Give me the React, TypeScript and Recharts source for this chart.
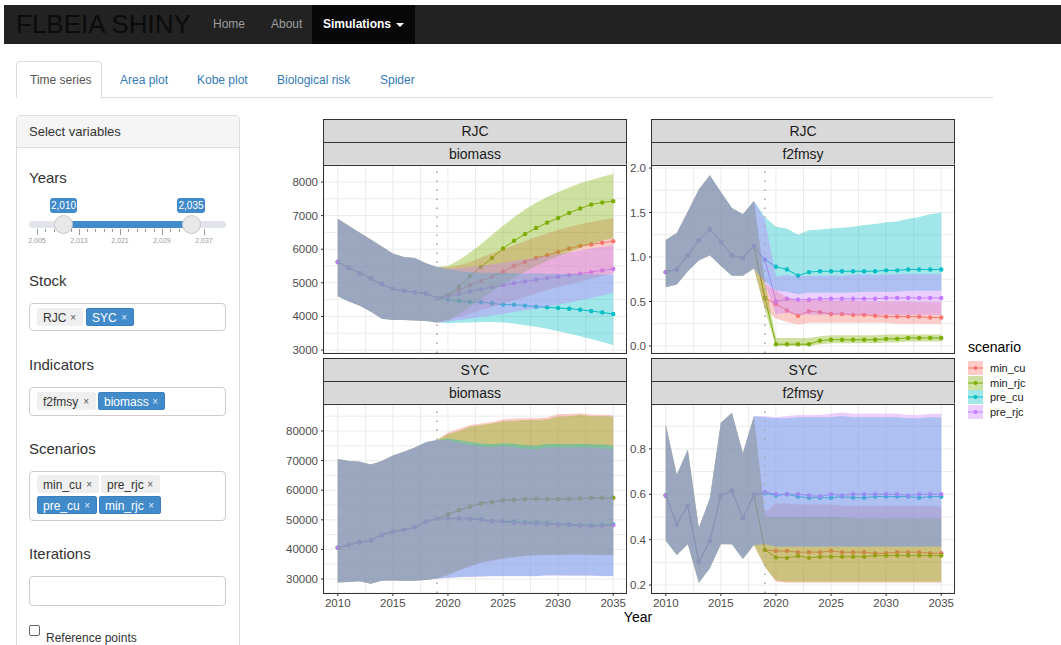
import React from 'react';
import { ComposedChart, Area, Line, XAxis, YAxis, CartesianGrid, ReferenceLine } from 'recharts';

// ---------- categories ----------
const years = [2010, 2011, 2012, 2013, 2014, 2015, 2016, 2017, 2018, 2019, 2020, 2021, 2022,
  2023, 2024, 2025, 2026, 2027, 2028, 2029, 2030, 2031, 2032, 2033, 2034, 2035];
const scenarios = ['min_cu', 'min_rjc', 'pre_cu', 'pre_rjc'];
const scenarioColors = ['#F8766D', '#7CAE00', '#00BFC4', '#C77CFF'];
const projectionYear = 2019;
const xMajorTicks = [2010, 2015, 2020, 2025, 2030, 2035];
const xMinorTicks = [2012.5, 2017.5, 2022.5, 2027.5, 2032.5];

// ---------- RJC biomass (hist 2010-2019, projection 2020-2035) ----------
const rjcBioHistMed = [5620, 5450, 5280, 5130, 4960, 4820, 4760, 4720, 4680, 4550];
const rjcBioHistLo = [4600, 4440, 4320, 4140, 3930, 3890, 3890, 3880, 3860, 3820];
const rjcBioHistHi = [6910, 6700, 6490, 6290, 6080, 5870, 5770, 5740, 5580, 5470];
const rjcBioMinCuMed = [4630, 4780, 4930, 5060, 5180, 5330, 5500, 5620, 5740, 5820, 5920, 6020, 6100, 6140, 6190, 6240];
const rjcBioMinCuLo = [3880, 3980, 4080, 4180, 4280, 4380, 4480, 4580, 4680, 4780, 4880, 4960, 5040, 5120, 5200, 5280];
const rjcBioMinCuHi = [5460, 5520, 5620, 5750, 5880, 6000, 6120, 6240, 6360, 6470, 6570, 6660, 6740, 6810, 6870, 6930];
const rjcBioMinRjcMed = [4630, 4880, 5200, 5470, 5740, 6020, 6250, 6450, 6630, 6790, 6930, 7080, 7210, 7330, 7390, 7430];
const rjcBioMinRjcLo = [3900, 4080, 4300, 4520, 4740, 4950, 5150, 5330, 5500, 5650, 5790, 5920, 6040, 6150, 6250, 6330];
const rjcBioMinRjcHi = [5500, 5680, 5900, 6150, 6430, 6700, 6950, 7180, 7380, 7550, 7700, 7840, 7960, 8060, 8160, 8240];
const rjcBioPreCuMed = [4500, 4460, 4430, 4420, 4390, 4350, 4350, 4320, 4290, 4270, 4250, 4230, 4200, 4160, 4120, 4070];
const rjcBioPreCuLo = [3800, 3810, 3820, 3830, 3830, 3820, 3790, 3740, 3690, 3630, 3560, 3490, 3410, 3330, 3240, 3150];
const rjcBioPreCuHi = [5400, 5350, 5320, 5300, 5300, 5290, 5290, 5280, 5280, 5270, 5270, 5260, 5260, 5250, 5250, 5250];
const rjcBioPreRjcMed = [4590, 4660, 4740, 4810, 4870, 4930, 4990, 5040, 5090, 5140, 5180, 5230, 5270, 5320, 5370, 5410];
const rjcBioPreRjcLo = [3850, 3890, 3930, 3980, 4030, 4080, 4130, 4180, 4230, 4290, 4350, 4410, 4480, 4550, 4620, 4700];
const rjcBioPreRjcHi = [5420, 5440, 5470, 5510, 5550, 5600, 5650, 5700, 5750, 5800, 5850, 5900, 5960, 6020, 6070, 6120];

// ---------- RJC f2fmsy (hist 2010-2018, projection 2019-2035) ----------
const rjcFHistMed = [0.83, 0.86, 1.02, 1.19, 1.31, 1.17, 1.02, 0.99, 1.12];
const rjcFHistLo = [0.66, 0.69, 0.84, 0.96, 1.02, 0.9, 0.79, 0.79, 0.87];
const rjcFHistHi = [1.19, 1.27, 1.51, 1.76, 1.92, 1.73, 1.55, 1.48, 1.63];
const rjcFMinCuMed = [0.54, 0.47, 0.4, 0.34, 0.39, 0.38, 0.36, 0.36, 0.35, 0.35, 0.34, 0.33, 0.33, 0.33, 0.33, 0.32, 0.32];
const rjcFMinCuLo = [0.42, 0.31, 0.27, 0.24, 0.26, 0.26, 0.26, 0.26, 0.26, 0.26, 0.26, 0.26, 0.25, 0.25, 0.25, 0.25, 0.25];
const rjcFMinCuHi = [0.7, 0.62, 0.55, 0.5, 0.52, 0.52, 0.51, 0.51, 0.51, 0.5, 0.5, 0.5, 0.5, 0.5, 0.49, 0.49, 0.49];
const rjcFMinRjcMed = [0.54, 0.02, 0.02, 0.02, 0.02, 0.06, 0.07, 0.07, 0.07, 0.07, 0.07, 0.08, 0.08, 0.09, 0.09, 0.09, 0.09];
const rjcFMinRjcLo = [0.4, 0.0, 0.0, 0.0, 0.0, 0.02, 0.03, 0.03, 0.03, 0.03, 0.03, 0.04, 0.04, 0.05, 0.05, 0.05, 0.05];
const rjcFMinRjcHi = [0.72, 0.09, 0.09, 0.09, 0.09, 0.11, 0.12, 0.12, 0.12, 0.12, 0.12, 0.13, 0.13, 0.13, 0.13, 0.13, 0.13];
const rjcFPreCuMed = [0.97, 0.89, 0.86, 0.79, 0.83, 0.84, 0.84, 0.84, 0.84, 0.84, 0.84, 0.85, 0.85, 0.86, 0.86, 0.86, 0.86];
const rjcFPreCuLo = [0.72, 0.62, 0.61, 0.58, 0.6, 0.6, 0.6, 0.6, 0.6, 0.61, 0.61, 0.61, 0.61, 0.62, 0.62, 0.62, 0.62];
const rjcFPreCuHi = [1.45, 1.34, 1.32, 1.25, 1.3, 1.31, 1.32, 1.33, 1.34, 1.36, 1.37, 1.39, 1.4, 1.43, 1.45, 1.48, 1.5];
const rjcFPreRjcMed = [0.97, 0.5, 0.53, 0.52, 0.52, 0.53, 0.53, 0.53, 0.53, 0.53, 0.53, 0.54, 0.54, 0.54, 0.54, 0.54, 0.54];
const rjcFPreRjcLo = [0.7, 0.36, 0.37, 0.35, 0.35, 0.35, 0.35, 0.35, 0.35, 0.35, 0.35, 0.35, 0.35, 0.35, 0.35, 0.35, 0.35];
const rjcFPreRjcHi = [1.42, 0.78, 0.8, 0.78, 0.79, 0.79, 0.79, 0.79, 0.8, 0.8, 0.8, 0.8, 0.81, 0.81, 0.81, 0.81, 0.81];

// ---------- SYC biomass (hist 2010-2019, projection 2020-2035) ----------
const sycBioHistMed = [40600, 41500, 42400, 43100, 44900, 46000, 46600, 47500, 49400, 50300];
const sycBioHistLo = [28800, 29000, 29200, 28400, 29400, 29500, 29400, 29400, 29700, 30200];
const sycBioHistHi = [70500, 69900, 69600, 68700, 69900, 71700, 73000, 74400, 76200, 77000];
const sycBioMinCuMed = [51900, 53200, 54500, 55600, 56000, 56500, 56800, 56900, 57100, 57000, 57000, 57100, 57200, 57300, 57500, 57400];
const sycBioMinCuLo = [31300, 32800, 34200, 35400, 36200, 36800, 37300, 37800, 37900, 38100, 38100, 38200, 38200, 38100, 38000, 38000];
const sycBioMinCuHi = [79500, 80800, 82000, 82500, 83000, 84000, 84200, 84300, 84300, 84600, 85700, 85700, 86000, 85600, 85500, 85300];
const sycBioMinRjcMed = [51800, 53300, 54400, 55500, 56100, 56600, 56700, 57000, 57000, 57000, 56900, 57000, 57200, 57400, 57400, 57500];
const sycBioMinRjcLo = [31500, 33000, 34500, 35600, 36500, 37000, 37500, 37900, 38000, 38200, 38200, 38300, 38300, 38200, 38100, 38100];
const sycBioMinRjcHi = [79000, 80000, 81500, 82000, 82500, 83300, 83500, 83700, 83700, 84000, 84800, 85000, 85500, 85000, 85000, 84800];
const sycBioPreCuMed = [50500, 50500, 50400, 50200, 49600, 49500, 49400, 49200, 49100, 48900, 48500, 48500, 48300, 48200, 48300, 48400];
const sycBioPreCuLo = [30400, 30700, 30800, 30900, 31000, 31000, 31000, 31000, 31000, 31300, 31300, 31200, 31200, 31200, 31000, 31000];
const sycBioPreCuHi = [77500, 77000, 76300, 75800, 75500, 75900, 75700, 75200, 75000, 75600, 75600, 75500, 75600, 75500, 75400, 75000];
const sycBioPreRjcMed = [50400, 50400, 50300, 50000, 49400, 49300, 48900, 48800, 48700, 48500, 48300, 48200, 48000, 47800, 47900, 48200];
const sycBioPreRjcLo = [30300, 30600, 30700, 30800, 30900, 30900, 30900, 30900, 30900, 31200, 31200, 31100, 31100, 31100, 30900, 30900];
const sycBioPreRjcHi = [77000, 76000, 75300, 74800, 74500, 74900, 74500, 74000, 73800, 74400, 74500, 74400, 74500, 74400, 74200, 73800];

// ---------- SYC f2fmsy (hist 2010-2018, projection 2019-2035) ----------
const sycFHistMed = [0.595, 0.468, 0.549, 0.303, 0.396, 0.594, 0.616, 0.495, 0.598];
const sycFHistLo = [0.395, 0.333, 0.38, 0.21, 0.274, 0.38, 0.38, 0.315, 0.377];
const sycFHistHi = [0.908, 0.686, 0.797, 0.451, 0.583, 0.915, 0.959, 0.782, 0.944];
const sycFMinCuMed = [0.355, 0.35, 0.35, 0.345, 0.345, 0.345, 0.35, 0.345, 0.345, 0.345, 0.34, 0.34, 0.345, 0.345, 0.345, 0.34, 0.34];
const sycFMinCuLo = [0.28, 0.215, 0.21, 0.21, 0.21, 0.21, 0.21, 0.21, 0.21, 0.21, 0.21, 0.21, 0.21, 0.21, 0.21, 0.21, 0.21];
const sycFMinCuHi = [0.52, 0.56, 0.56, 0.555, 0.555, 0.555, 0.555, 0.55, 0.55, 0.55, 0.55, 0.55, 0.55, 0.55, 0.55, 0.55, 0.545];
const sycFMinRjcMed = [0.355, 0.322, 0.32, 0.328, 0.32, 0.325, 0.325, 0.325, 0.325, 0.325, 0.33, 0.33, 0.33, 0.33, 0.33, 0.33, 0.33];
const sycFMinRjcLo = [0.28, 0.22, 0.215, 0.215, 0.215, 0.215, 0.215, 0.215, 0.215, 0.215, 0.215, 0.215, 0.215, 0.215, 0.215, 0.215, 0.215];
const sycFMinRjcHi = [0.5, 0.5, 0.5, 0.5, 0.5, 0.5, 0.5, 0.5, 0.495, 0.495, 0.495, 0.495, 0.495, 0.495, 0.495, 0.495, 0.495];
const sycFPreCuMed = [0.605, 0.595, 0.6, 0.59, 0.585, 0.585, 0.585, 0.59, 0.585, 0.585, 0.59, 0.59, 0.59, 0.59, 0.585, 0.59, 0.59];
const sycFPreCuLo = [0.38, 0.37, 0.37, 0.37, 0.37, 0.37, 0.37, 0.37, 0.37, 0.37, 0.37, 0.37, 0.37, 0.37, 0.37, 0.37, 0.37];
const sycFPreCuHi = [0.94, 0.935, 0.935, 0.94, 0.94, 0.94, 0.94, 0.945, 0.94, 0.94, 0.94, 0.94, 0.94, 0.935, 0.935, 0.94, 0.94];
const sycFPreRjcMed = [0.61, 0.6, 0.6, 0.6, 0.595, 0.59, 0.6, 0.595, 0.6, 0.6, 0.6, 0.6, 0.6, 0.595, 0.6, 0.6, 0.6];
const sycFPreRjcLo = [0.38, 0.37, 0.37, 0.37, 0.37, 0.37, 0.37, 0.37, 0.37, 0.37, 0.37, 0.37, 0.37, 0.37, 0.37, 0.37, 0.37];
const sycFPreRjcHi = [0.945, 0.94, 0.945, 0.95, 0.95, 0.95, 0.955, 0.96, 0.955, 0.955, 0.955, 0.955, 0.955, 0.95, 0.95, 0.955, 0.955];

// ---------- axis tick labels ----------
const rjcBioYMajor = [3000, 4000, 5000, 6000, 7000, 8000];
const rjcBioYMinor = [3500, 4500, 5500, 6500, 7500];
const rjcFYMajor = [0, 0.5, 1, 1.5, 2];
const rjcFYMinor = [0.25, 0.75, 1.25, 1.75];
const sycBioYMajor = [30000, 40000, 50000, 60000, 70000, 80000];
const sycBioYMinor = [35000, 45000, 55000, 65000, 75000, 85000];
const sycFYMajor = [0.2, 0.4, 0.6, 0.8];
const sycFYMinor = [0.3, 0.5, 0.7, 0.9];

// ---------- sidebar values ----------
const sliderGridLabels = ['2,005', '2,013', '2,021', '2,029', '2,037'];
const stockTags = [{ label: 'RJC', active: false }, { label: 'SYC', active: true }];
const indicatorTags = [{ label: 'f2fmsy', active: false }, { label: 'biomass', active: true }];
const scenarioTagsRow1 = [{ label: 'min_cu', active: false }, { label: 'pre_rjc', active: false }];
const scenarioTagsRow2 = [{ label: 'pre_cu', active: true }, { label: 'min_rjc', active: true }];
const navLinks = ['Home', 'About'];
const tabLabels = ['Time series', 'Area plot', 'Kobe plot', 'Biological risk', 'Spider'];

type Band = { med: number[]; lo: number[]; hi: number[] };

function buildRows(hist: Band, proj: Band[]) {
  return years.map((year, i) => {
    const row: Record<string, any> = { year };
    scenarios.forEach((s, k) => {
      const med = hist.med.concat(proj[k].med);
      const lo = hist.lo.concat(proj[k].lo);
      const hi = hist.hi.concat(proj[k].hi);
      row[s] = med[i];
      row[s + '_band'] = [lo[i], hi[i]];
    });
    return row;
  });
}

const rjcBioRows = buildRows(
  { med: rjcBioHistMed, lo: rjcBioHistLo, hi: rjcBioHistHi },
  [
    { med: rjcBioMinCuMed, lo: rjcBioMinCuLo, hi: rjcBioMinCuHi },
    { med: rjcBioMinRjcMed, lo: rjcBioMinRjcLo, hi: rjcBioMinRjcHi },
    { med: rjcBioPreCuMed, lo: rjcBioPreCuLo, hi: rjcBioPreCuHi },
    { med: rjcBioPreRjcMed, lo: rjcBioPreRjcLo, hi: rjcBioPreRjcHi },
  ]
);
const rjcFRows = buildRows(
  { med: rjcFHistMed, lo: rjcFHistLo, hi: rjcFHistHi },
  [
    { med: rjcFMinCuMed, lo: rjcFMinCuLo, hi: rjcFMinCuHi },
    { med: rjcFMinRjcMed, lo: rjcFMinRjcLo, hi: rjcFMinRjcHi },
    { med: rjcFPreCuMed, lo: rjcFPreCuLo, hi: rjcFPreCuHi },
    { med: rjcFPreRjcMed, lo: rjcFPreRjcLo, hi: rjcFPreRjcHi },
  ]
);
const sycBioRows = buildRows(
  { med: sycBioHistMed, lo: sycBioHistLo, hi: sycBioHistHi },
  [
    { med: sycBioMinCuMed, lo: sycBioMinCuLo, hi: sycBioMinCuHi },
    { med: sycBioMinRjcMed, lo: sycBioMinRjcLo, hi: sycBioMinRjcHi },
    { med: sycBioPreCuMed, lo: sycBioPreCuLo, hi: sycBioPreCuHi },
    { med: sycBioPreRjcMed, lo: sycBioPreRjcLo, hi: sycBioPreRjcHi },
  ]
);
const sycFRows = buildRows(
  { med: sycFHistMed, lo: sycFHistLo, hi: sycFHistHi },
  [
    { med: sycFMinCuMed, lo: sycFMinCuLo, hi: sycFMinCuHi },
    { med: sycFMinRjcMed, lo: sycFMinRjcLo, hi: sycFMinRjcHi },
    { med: sycFPreCuMed, lo: sycFPreCuLo, hi: sycFPreCuHi },
    { med: sycFPreRjcMed, lo: sycFPreRjcLo, hi: sycFPreRjcHi },
  ]
);

const FONT = '"Liberation Sans", Arial, Helvetica, sans-serif';
const BAND_OPACITY = 0.37;
const X_DOMAIN: [number, number] = [2008.75, 2036.25];

const abs = (left: number, top: number, extra: React.CSSProperties = {}): React.CSSProperties => ({
  position: 'absolute', left, top, boxSizing: 'border-box', ...extra,
});

type PanelProps = {
  left: number; top: number; width: number; height: number;
  rows: any[]; yDomain: [number, number]; yMajor: number[]; yMinor: number[];
  decimals: number; showX: boolean; stock: string; indicator: string;
};

function FacetPanel(p: PanelProps) {
  const axisW = 40;
  const pad = 8;
  const xAxisH = p.showX ? 24 : 0;
  const yTicks = [...p.yMajor, ...p.yMinor].sort((a, b) => a - b);
  const xTicks = [...xMajorTicks, ...xMinorTicks].sort((a, b) => a - b);
  const chartW = p.width + axisW;
  const chartH = p.height + xAxisH + pad * 2;
  const margin = { top: pad, right: 0, bottom: pad, left: 0 };

  const YTick = (t: any) => {
    const v = t.payload.value;
    if (!p.yMajor.includes(v)) return <g />;
    return (
      <g>
        <line x1={t.x + 3} x2={t.x + 6} y1={t.y} y2={t.y} stroke="#333" strokeWidth={1} />
        <text x={t.x} y={t.y} dy="0.35em" textAnchor="end" fontSize={11.5} fill="#4D4D4D" fontFamily={FONT}>
          {v.toFixed(p.decimals)}
        </text>
      </g>
    );
  };
  const XTick = (t: any) => {
    const v = t.payload.value;
    if (!xMajorTicks.includes(v)) return <g />;
    return (
      <g>
        <line x1={t.x} x2={t.x} y1={t.y - 6} y2={t.y - 3} stroke="#333" strokeWidth={1} />
        <text x={t.x} y={t.y} dy="0.71em" textAnchor="middle" fontSize={11.5} fill="#4D4D4D" fontFamily={FONT}>
          {v}
        </text>
      </g>
    );
  };

  const stripStyle: React.CSSProperties = {
    background: '#D9D9D9', border: '1px solid #333', width: p.width + 1, textAlign: 'center',
    fontSize: 14, color: '#1A1A1A', fontFamily: FONT,
  };

  return (
    <>
      <div style={abs(p.left - 1, p.top - 46, { ...stripStyle, height: 24, lineHeight: '22px' })}>{p.stock}</div>
      <div style={abs(p.left - 1, p.top - 23, { ...stripStyle, height: 24, lineHeight: '22px' })}>{p.indicator}</div>
      {/* bottom layer: grid, axes, median lines with points */}
      <div style={abs(p.left - axisW, p.top - pad)}>
        <ComposedChart width={chartW} height={chartH} data={p.rows} margin={margin}>
          <CartesianGrid stroke="#EBEBEB" strokeWidth={1} />
          <XAxis type="number" dataKey="year" domain={X_DOMAIN} ticks={xTicks} interval={0}
            allowDataOverflow hide={!p.showX} height={xAxisH} axisLine={false} tickLine={false}
            tickSize={3} tickMargin={3} tick={XTick} />
          <YAxis type="number" domain={p.yDomain} ticks={yTicks} interval={0} allowDataOverflow
            width={axisW} axisLine={false} tickLine={false} tickSize={3} tickMargin={3} tick={YTick} />
          {scenarios.map((s, k) => (
            <Line key={'l' + s} dataKey={s} type="linear" stroke={scenarioColors[k]} strokeWidth={1}
              dot={{ r: 2.2, fill: scenarioColors[k], stroke: scenarioColors[k], strokeWidth: 0 }}
              activeDot={false} isAnimationActive={false} />
          ))}
        </ComposedChart>
      </div>
      {/* top layer: translucent ribbons and the projection-start line */}
      <div style={abs(p.left - axisW, p.top - pad)}>
        <ComposedChart width={chartW} height={chartH} data={p.rows} margin={margin}>
          <XAxis type="number" dataKey="year" domain={X_DOMAIN} ticks={xTicks} interval={0}
            allowDataOverflow hide={!p.showX} height={xAxisH} axisLine={false} tickLine={false} tick={false} />
          <YAxis type="number" domain={p.yDomain} ticks={yTicks} interval={0} allowDataOverflow
            width={axisW} axisLine={false} tickLine={false} tick={false} />
          {scenarios.map((s, k) => (
            <Area key={'a' + s} dataKey={s + '_band'} type="linear" stroke="none" fill={scenarioColors[k]}
              fillOpacity={BAND_OPACITY} dot={false} activeDot={false} isAnimationActive={false} />
          ))}
          <ReferenceLine x={projectionYear} stroke="#A8A8A8" strokeWidth={1.6} strokeDasharray="1.6 7.4" />
        </ComposedChart>
      </div>
      <div style={abs(p.left - 1, p.top, { width: p.width + 1, height: p.height + 1, border: '1px solid #333', pointerEvents: 'none' })} />
    </>
  );
}

function Tag({ left, top, label, active, width }: { left: number; top: number; label: string; active: boolean; width: number }) {
  return (
    <div style={abs(left, top, {
      width, height: 18, lineHeight: '18px', fontSize: 12, paddingLeft: 5,
      background: active ? '#428bca' : '#efefef', color: active ? '#fff' : '#333',
      border: active ? '1px solid #3a7fc0' : '1px solid #efefef', borderRadius: 2, whiteSpace: 'nowrap',
    })}>
      {label}
      <span style={{ position: 'absolute', right: 6, top: 0, fontSize: 10, color: active ? '#dfeaf6' : '#555' }}>×</span>
    </div>
  );
}

function LegendKey({ color }: { color: string }) {
  return (
    <svg width={15} height={14} style={{ display: 'block' }}>
      <line x1={0} x2={15} y1={7} y2={7} stroke={color} strokeWidth={1} />
      <circle cx={7.5} cy={7} r={2} fill={color} />
      <rect x={0} y={0} width={15} height={14} fill={color} fillOpacity={BAND_OPACITY} />
    </svg>
  );
}

export default function App() {
  const tabLefts = [30, 120, 197, 277, 380];
  const tagWidths1 = [46, 48];
  const tagWidths2 = [59, 67];
  const sliderTickXs = [37, 45.4, 53.8, 62.2, 70.6, 79, 87.2, 95.4, 103.6, 111.8, 120, 128.4, 136.8, 145.2, 153.6, 162, 170.4, 178.8, 187.2, 195.6, 204];
  return (
    <div style={{ position: 'absolute', left: 0, top: 0, width: 1061, height: 645, overflow: 'hidden', background: '#fff', fontFamily: FONT }}>
      {/* navbar */}
      <div style={abs(4, 5, { width: 1057, height: 39, background: '#222' })} />
      <div style={abs(312, 5, { width: 103, height: 39, background: '#080808' })} />
      <div style={abs(16, 5, { height: 39, lineHeight: '39px', fontSize: 26, color: '#0b0b0b', whiteSpace: 'nowrap' })}>FLBEIA SHINY</div>
      {navLinks.map((n, i) => (
        <div key={n} style={abs(i === 0 ? 213 : 271, 5, { height: 39, lineHeight: '39px', fontSize: 12, color: '#9d9d9d' })}>{n}</div>
      ))}
      <div style={abs(323, 5, { height: 39, lineHeight: '39px', fontSize: 12, color: '#fff', fontWeight: 'bold', whiteSpace: 'nowrap' })}>
        Simulations
        <span style={{ display: 'inline-block', marginLeft: 5, verticalAlign: 'middle', width: 0, height: 0, borderTop: '4px solid #fff', borderLeft: '4px solid transparent', borderRight: '4px solid transparent' }} />
      </div>

      {/* tabs */}
      <div style={abs(16, 97, { width: 977, height: 1, background: '#ddd' })} />
      <div style={abs(16, 61, { width: 86, height: 37, border: '1px solid #ddd', borderBottom: 'none', borderRadius: '4px 4px 0 0', background: '#fff' })} />
      {tabLabels.map((t, i) => (
        <div key={t} style={abs(tabLefts[i], 70, { height: 20, lineHeight: '20px', fontSize: 12, color: i === 0 ? '#555' : '#337ab7', whiteSpace: 'nowrap' })}>{t}</div>
      ))}

      {/* sidebar */}
      <div style={abs(16, 115, { width: 224, height: 560, border: '1px solid #ddd', borderRadius: 4, background: '#fff' })} />
      <div style={abs(17, 116, { width: 222, height: 32, background: '#f5f5f5', borderBottom: '1px solid #ddd', borderRadius: '3px 3px 0 0', paddingLeft: 12, lineHeight: '31px', fontSize: 13, color: '#333' })}>Select variables</div>

      <div style={abs(29, 168, { fontSize: 15, color: '#333', lineHeight: '20px' })}>Years</div>
      {/* slider */}
      <div style={abs(50, 198, { width: 27, height: 15, background: '#428bca', color: '#fff', fontSize: 10, lineHeight: '15px', textAlign: 'center', borderRadius: 3 })}>2,010</div>
      <div style={abs(177, 198, { width: 28, height: 15, background: '#428bca', color: '#fff', fontSize: 10, lineHeight: '15px', textAlign: 'center', borderRadius: 3 })}>2,035</div>
      <div style={abs(29, 221, { width: 197, height: 7, background: '#e1e4e9', borderRadius: 4 })} />
      <div style={abs(63, 221, { width: 128, height: 7, background: '#428bca' })} />
      {sliderTickXs.map((x, i) => (
        <div key={i} style={abs(x, 229, { width: 1, height: i % 5 === 0 ? 6 : 3, background: '#999' })} />
      ))}
      {sliderGridLabels.map((l, i) => (
        <div key={l} style={abs(sliderTickXs[i * 5] - 12, 236, { width: 24, textAlign: 'center', fontSize: 7, color: '#999', lineHeight: '10px' })}>{l}</div>
      ))}
      <div style={abs(54, 215, { width: 19, height: 19, borderRadius: 10, background: '#e8e8e8', border: '1px solid #c8c8c8' })} />
      <div style={abs(182, 215, { width: 19, height: 19, borderRadius: 10, background: '#e8e8e8', border: '1px solid #c8c8c8' })} />

      <div style={abs(29, 271, { fontSize: 15, color: '#333', lineHeight: '20px' })}>Stock</div>
      <div style={abs(29, 303, { width: 197, height: 28, border: '1px solid #ccc', borderRadius: 4 })} />
      {stockTags.map((t, i) => (
        <Tag key={t.label} left={i === 0 ? 37 : 86} top={308} label={t.label} active={t.active} width={tagWidths1[i]} />
      ))}

      <div style={abs(29, 355, { fontSize: 15, color: '#333', lineHeight: '20px' })}>Indicators</div>
      <div style={abs(29, 387, { width: 197, height: 29, border: '1px solid #ccc', borderRadius: 4 })} />
      {indicatorTags.map((t, i) => (
        <Tag key={t.label} left={i === 0 ? 37 : 98} top={392} label={t.label} active={t.active} width={tagWidths2[i]} />
      ))}

      <div style={abs(29, 439, { fontSize: 15, color: '#333', lineHeight: '20px' })}>Scenarios</div>
      <div style={abs(29, 471, { width: 197, height: 50, border: '1px solid #ccc', borderRadius: 4 })} />
      {scenarioTagsRow1.map((t, i) => (
        <Tag key={t.label} left={i === 0 ? 37 : 101} top={475} label={t.label} active={t.active} width={i === 0 ? 62 : 59} />
      ))}
      {scenarioTagsRow2.map((t, i) => (
        <Tag key={t.label} left={i === 0 ? 37 : 99} top={496} label={t.label} active={t.active} width={i === 0 ? 60 : 62} />
      ))}

      <div style={abs(29, 544, { fontSize: 15, color: '#333', lineHeight: '20px' })}>Iterations</div>
      <div style={abs(29, 576, { width: 197, height: 30, border: '1px solid #ccc', borderRadius: 4 })} />

      <div style={abs(29, 625, { width: 11, height: 11, border: '1px solid #666', borderRadius: 2, background: '#fff' })} />
      <div style={abs(46, 630, { fontSize: 12, color: '#333', lineHeight: '16px', whiteSpace: 'nowrap' })}>Reference points</div>

      {/* facet panels */}
      <FacetPanel left={324} top={165} width={303} height={188} rows={rjcBioRows} yDomain={[2911, 8506]}
        yMajor={rjcBioYMajor} yMinor={rjcBioYMinor} decimals={0} showX={false} stock="RJC" indicator="biomass" />
      <FacetPanel left={652} top={165} width={303} height={188} rows={rjcFRows} yDomain={[-0.079, 2.034]}
        yMajor={rjcFYMajor} yMinor={rjcFYMinor} decimals={1} showX={false} stock="RJC" indicator="f2fmsy" />
      <FacetPanel left={324} top={404} width={303} height={189} rows={sycBioRows} yDomain={[25270, 89120]}
        yMajor={sycBioYMajor} yMinor={sycBioYMinor} decimals={0} showX={true} stock="SYC" indicator="biomass" />
      <FacetPanel left={652} top={404} width={303} height={189} rows={sycFRows} yDomain={[0.165, 0.998]}
        yMajor={sycFYMajor} yMinor={sycFYMinor} decimals={1} showX={true} stock="SYC" indicator="f2fmsy" />

      <div style={abs(610, 608, { width: 56, textAlign: 'center', fontSize: 14, color: '#000', lineHeight: '18px' })}>Year</div>

      {/* legend */}
      <div style={abs(968, 338, { fontSize: 14, color: '#000', lineHeight: '18px' })}>scenario</div>
      {scenarios.map((s, k) => (
        <div key={s} style={abs(968, 361 + k * 14.7, { display: 'flex', alignItems: 'center', height: 14 })}>
          <LegendKey color={scenarioColors[k]} />
          <span style={{ marginLeft: 7, fontSize: 11, color: '#1A1A1A', lineHeight: '14px' }}>{s}</span>
        </div>
      ))}
    </div>
  );
}
